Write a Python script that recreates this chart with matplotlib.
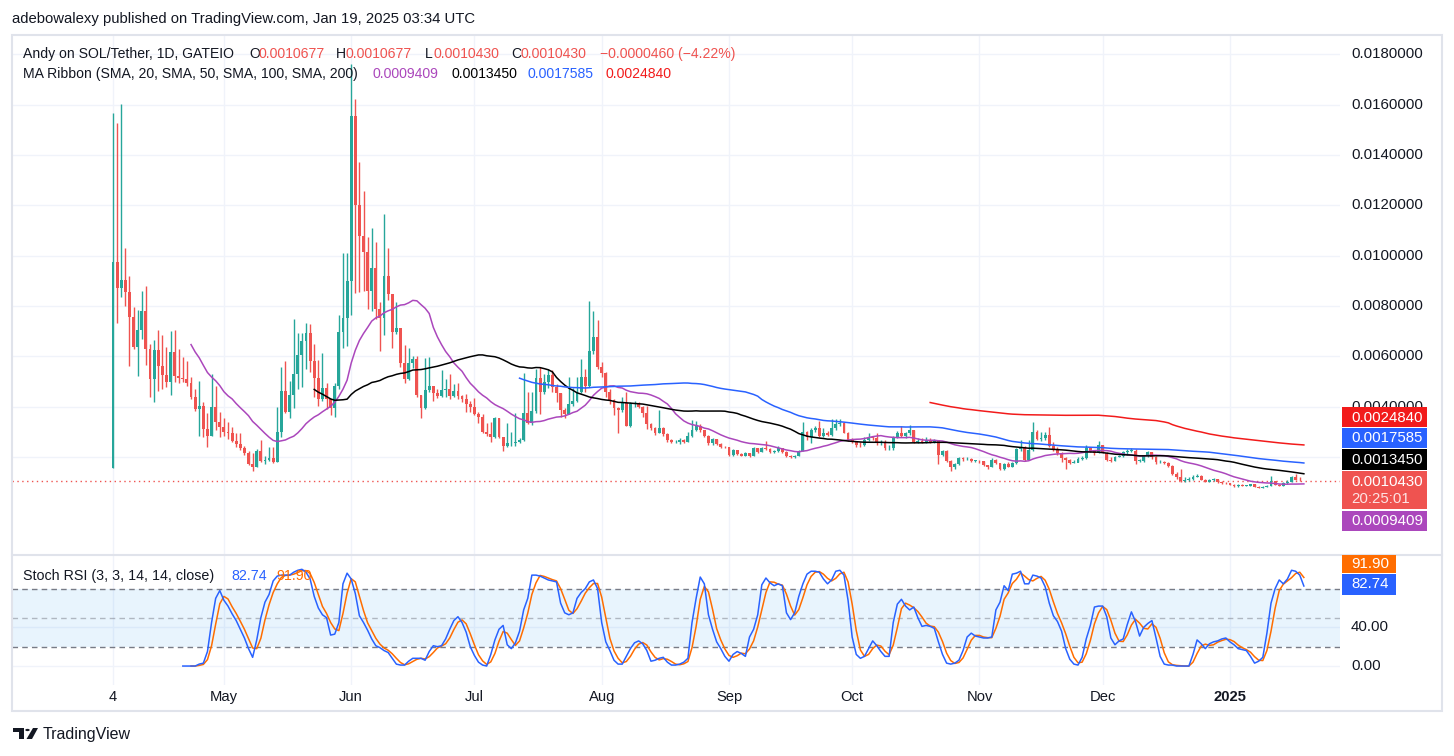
import matplotlib
matplotlib.use('Agg')
import matplotlib.pyplot as plt
import matplotlib.transforms as mtransforms
from matplotlib.patches import Rectangle, Polygon, Circle
from matplotlib.lines import Line2D
import numpy as np
import pandas as pd

plt.rcParams['font.family'] = ['Liberation Sans', 'DejaVu Sans']

# daily candles from 2024-04-04, prices in units of 0.001 USDT
first_open = 1.59
last_open = 1.0677
closes = [
    9.76, 8.73, 9.04, 8.57, 7.56, 6.39, 7.05, 7.81, 6.29, 5.10,
    6.26, 5.62, 5.27, 5.00, 6.18, 5.24, 5.13, 5.10, 4.96, 4.38,
    3.92, 4.04, 3.11, 2.85, 3.98, 3.41, 3.21, 3.02, 2.98, 2.66,
    2.53, 2.36, 2.18, 1.73, 1.63, 2.25, 1.85, 1.89, 1.96, 1.83,
    2.99, 4.63, 3.81, 4.47, 5.31, 6.06, 6.61, 6.92, 5.82, 5.13,
    4.30, 4.74, 4.30, 3.94, 4.83, 6.96, 7.54, 9.00, 15.54, 12.01,
    10.79, 10.16, 8.61, 9.52, 7.87, 7.52, 9.19, 8.47, 6.96, 7.12,
    5.73, 5.10, 5.73, 5.89, 4.47, 3.94, 4.67, 4.83, 4.54, 4.43,
    4.67, 4.70, 4.43, 4.64, 4.43, 4.30, 4.11, 4.01, 3.71, 3.61,
    3.02, 2.92, 2.79, 3.57, 2.79, 2.45, 2.56, 2.58, 2.60, 2.69,
    3.75, 3.35, 3.84, 5.16, 4.60, 5.00, 5.25, 4.80, 4.56, 3.88,
    3.70, 4.12, 4.25, 4.60, 5.20, 4.83, 6.22, 6.79, 5.57, 5.36,
    4.60, 4.27, 3.94, 3.88, 4.14, 3.24, 4.12, 4.17, 4.01, 3.75,
    3.31, 3.17, 2.98, 3.17, 2.92, 2.69, 2.60, 2.60, 2.69, 2.62,
    2.85, 3.08, 3.24, 3.08, 2.85, 2.56, 2.71, 2.52, 2.42, 2.40,
    2.09, 2.29, 2.13, 2.06, 2.16, 2.06, 2.36, 2.22, 2.36, 2.32,
    2.22, 2.25, 2.36, 2.22, 2.06, 2.00, 2.06, 2.26, 3.00, 2.79,
    3.08, 3.15, 2.83, 2.98, 2.88, 3.15, 3.32, 3.35, 2.98, 2.69,
    2.62, 2.50, 2.48, 2.69, 2.78, 2.76, 2.55, 2.59, 2.35, 2.35,
    2.78, 2.98, 2.83, 2.95, 3.10, 2.59, 2.65, 2.60, 2.70, 2.60,
    2.68, 2.09, 2.25, 1.87, 1.63, 1.72, 1.96, 1.92, 1.95, 1.85,
    1.86, 1.84, 1.70, 1.63, 1.89, 1.76, 1.52, 1.73, 1.63, 1.76,
    2.31, 2.35, 1.90, 2.30, 3.00, 2.74, 2.75, 2.90, 2.44, 2.30,
    2.17, 1.97, 1.88, 1.78, 1.79, 1.95, 1.97, 2.37, 2.25, 2.15,
    2.49, 2.17, 1.90, 1.85, 2.02, 2.06, 2.19, 2.26, 2.26, 1.86,
    1.86, 2.04, 2.19, 1.99, 1.80, 1.80, 1.79, 1.66, 1.34, 1.20,
    1.07, 1.10, 1.14, 1.23, 1.27, 1.10, 1.03, 1.10, 1.12, 1.00,
    0.99, 0.97, 0.91, 0.84, 0.91, 0.87, 0.87, 0.93, 0.82, 0.79,
    0.82, 0.87, 1.06, 0.90, 0.86, 0.96, 1.03, 1.20, 1.10, 1.089,
    1.043,
]
highs = [
    15.65, 15.25, 16.02, 10.29, 9.19, 7.98, 7.85, 8.61, 8.80, 6.48,
    6.65, 7.05, 6.85, 6.39, 7.01, 7.05, 6.31, 5.99, 5.82, 5.20,
    4.71, 5.03, 4.18, 3.75, 5.29, 4.83, 3.81, 3.57, 3.40, 3.21,
    2.95, 2.98, 2.45, 2.25, 2.16, 2.32, 2.69, 2.05, 2.40, 2.42,
    3.98, 5.57, 5.82, 5.03, 7.49, 6.94, 6.94, 7.32, 7.30, 6.50,
    5.85, 6.13, 4.95, 4.20, 4.95, 7.65, 10.12, 10.12, 17.60, 16.21,
    13.71, 12.56, 10.73, 11.09, 10.56, 8.17, 11.65, 10.32, 8.47, 8.15,
    7.12, 6.46, 6.35, 6.00, 6.02, 4.47, 5.95, 5.99, 4.83, 4.70,
    5.46, 5.10, 5.30, 4.90, 4.95, 4.48, 4.50, 4.24, 4.35, 3.80,
    3.70, 3.35, 3.40, 3.61, 3.57, 2.79, 3.35, 3.00, 3.75, 2.75,
    5.36, 4.60, 4.60, 5.49, 5.60, 5.30, 5.50, 5.45, 4.90, 4.56,
    3.95, 5.20, 4.74, 5.20, 5.90, 5.50, 8.20, 7.81, 7.45, 5.80,
    5.40, 4.70, 4.30, 4.00, 4.40, 4.58, 4.20, 4.25, 4.20, 4.05,
    4.04, 3.35, 3.20, 3.88, 3.20, 2.95, 2.72, 2.68, 2.75, 2.72,
    3.00, 3.47, 3.45, 3.30, 3.10, 2.88, 2.75, 2.72, 2.56, 2.45,
    2.42, 2.33, 2.25, 2.18, 2.20, 2.15, 2.40, 2.38, 2.42, 2.65,
    2.35, 2.30, 2.45, 2.38, 2.25, 2.08, 2.10, 2.30, 3.41, 3.05,
    3.15, 3.25, 3.44, 3.15, 3.05, 3.52, 3.52, 3.52, 3.40, 3.00,
    2.75, 2.65, 2.60, 2.80, 2.98, 2.85, 2.95, 2.70, 2.70, 2.50,
    2.85, 3.05, 3.25, 3.00, 3.28, 3.10, 2.75, 2.75, 2.80, 2.75,
    2.72, 2.70, 2.30, 2.28, 1.90, 1.78, 2.00, 2.02, 2.00, 1.98,
    1.90, 1.90, 1.85, 1.70, 1.96, 1.92, 1.78, 1.78, 1.80, 1.80,
    2.35, 2.69, 2.45, 2.69, 3.39, 3.10, 2.99, 3.00, 3.20, 2.60,
    2.40, 2.20, 2.02, 1.92, 1.90, 2.00, 2.05, 2.50, 2.40, 2.30,
    2.65, 2.50, 2.20, 2.00, 2.05, 2.10, 2.25, 2.32, 2.35, 2.32,
    1.95, 2.10, 2.25, 2.22, 2.05, 1.88, 1.85, 1.83, 1.70, 1.40,
    1.52, 1.20, 1.20, 1.30, 1.35, 1.30, 1.15, 1.15, 1.18, 1.15,
    1.04, 1.02, 0.99, 0.93, 0.93, 0.93, 0.90, 0.95, 0.95, 0.84,
    0.86, 0.90, 1.26, 1.06, 0.94, 1.00, 1.08, 1.25, 1.33, 1.20,
    1.0677,
]
lows = [
    1.59, 7.34, 8.35, 8.02, 5.63, 6.29, 5.24, 6.68, 5.65, 4.38,
    4.21, 4.64, 4.70, 4.80, 4.46, 4.98, 4.96, 5.00, 4.83, 4.30,
    3.85, 2.86, 2.79, 2.42, 2.85, 3.08, 2.82, 2.86, 2.71, 2.60,
    2.42, 2.29, 2.09, 1.69, 1.46, 1.60, 1.80, 1.73, 1.85, 1.78,
    1.80, 2.80, 3.75, 3.55, 3.97, 4.70, 4.80, 5.50, 5.40, 4.40,
    4.04, 4.25, 3.90, 3.68, 3.60, 4.70, 6.33, 6.40, 7.65, 8.51,
    8.57, 8.60, 7.87, 7.81, 7.48, 6.23, 6.85, 8.24, 6.33, 6.90,
    5.60, 4.96, 5.05, 5.53, 4.40, 3.57, 3.90, 4.60, 4.25, 4.35,
    4.40, 4.40, 4.30, 4.40, 4.30, 4.20, 3.81, 3.81, 3.68, 3.35,
    2.95, 2.85, 2.62, 2.75, 2.75, 2.26, 2.40, 2.45, 2.45, 2.55,
    2.65, 3.30, 3.28, 3.75, 3.70, 4.50, 4.75, 4.60, 4.20, 3.60,
    3.55, 3.70, 4.05, 4.20, 4.55, 4.60, 4.80, 6.10, 5.50, 5.20,
    4.40, 4.10, 3.68, 2.98, 3.80, 3.23, 3.20, 4.00, 3.95, 3.61,
    3.11, 3.10, 2.90, 2.95, 2.85, 2.62, 2.55, 2.55, 2.52, 2.58,
    2.60, 2.80, 3.05, 3.00, 2.80, 2.50, 2.50, 2.48, 2.38, 2.35,
    2.05, 2.05, 2.10, 2.03, 2.05, 2.02, 2.05, 2.18, 2.20, 2.28,
    2.18, 2.15, 2.20, 2.18, 2.02, 1.97, 1.98, 2.05, 2.24, 2.70,
    2.55, 3.00, 2.80, 2.80, 2.85, 2.85, 3.10, 3.25, 2.95, 2.65,
    2.55, 2.40, 2.40, 2.45, 2.65, 2.70, 2.50, 2.50, 2.30, 2.30,
    2.30, 2.75, 2.80, 2.75, 2.90, 2.55, 2.55, 2.55, 2.55, 2.55,
    2.55, 1.73, 2.05, 1.80, 1.47, 1.55, 1.70, 1.85, 1.88, 1.80,
    1.80, 1.78, 1.65, 1.52, 1.60, 1.72, 1.48, 1.50, 1.60, 1.60,
    1.74, 2.25, 1.85, 1.90, 2.25, 2.70, 2.65, 2.70, 2.40, 2.25,
    2.10, 1.80, 1.52, 1.75, 1.77, 1.80, 1.90, 1.95, 2.20, 2.10,
    2.15, 2.15, 1.85, 1.80, 1.85, 2.00, 2.02, 2.10, 2.20, 1.75,
    1.80, 1.83, 2.00, 1.95, 1.75, 1.76, 1.75, 1.60, 1.30, 1.15,
    1.00, 1.03, 1.05, 1.08, 1.20, 1.08, 1.00, 1.02, 1.05, 0.97,
    0.95, 0.93, 0.88, 0.82, 0.82, 0.84, 0.84, 0.84, 0.80, 0.77,
    0.78, 0.80, 0.85, 0.88, 0.84, 0.85, 0.95, 1.00, 1.08, 1.05,
    1.043,
]

stoch_start = 17
stoch_k = [
    0, 0, 0, 0, 2, 3, 15, 45, 70, 78,
    68, 62, 54, 47, 38, 29, 18, 9, 27, 50,
    66, 74, 88, 93, 94, 94, 94, 97, 99, 100,
    97, 90, 72, 60, 53, 50, 32, 33, 45, 85,
    96, 90, 75, 52, 45, 37, 28, 21, 19, 16,
    14, 8, 2, 1, 1, 5, 8, 8, 8, 6,
    15, 21, 20, 21, 28, 38, 47, 51, 45, 35,
    20, 11, 4, 1, 0, 12, 27, 38, 42, 22,
    18, 24, 36, 58, 70, 94, 94, 93, 91, 89,
    88, 87, 65, 55, 53, 55, 70, 76, 80, 87,
    89, 80, 45, 25, 16, 6, 2, 2, 10, 18,
    24, 26, 23, 16, 5, 6, 8, 9, 4, 1,
    1, 2, 4, 8, 45, 70, 92, 85, 53, 38,
    25, 18, 10, 5, 12, 15, 13, 10, 30, 38,
    53, 84, 91, 86, 83, 85, 83, 55, 48, 55,
    72, 85, 95, 98, 98, 97, 90, 85, 89, 98,
    99, 94, 68, 30, 12, 8, 10, 18, 26, 21,
    15, 10, 10, 45, 64, 69, 62, 58, 61, 50,
    41, 42, 41, 39, 25, 12, 3, 2, 3, 6,
    16, 30, 34, 31, 30, 29, 29, 30, 58, 66,
    83, 78, 95, 96, 98, 85, 85, 94, 93, 91,
    82, 65, 52, 46, 36, 18, 7, 2, 1, 9,
    28, 42, 61, 62, 62, 51, 29, 22, 26, 28,
    43, 56, 46, 31, 40, 44, 47, 29, 10, 2,
    1, 1, 0, 0, 0, 0, 12, 27, 23, 18,
    23, 25, 26, 28, 29, 25, 22, 18, 17, 16,
    10, 3, 5, 9, 34, 65, 80, 89, 85, 90,
    99, 98, 94, 82.74,
]

ma_lengths = [20, 50, 100, 200]
ma_colors = ['#ab47bc', '#000000', '#2962ff', '#f21b1b']
ma_labels = ['0.0009409', '0.0013450', '0.0017585', '0.0024840']
price_ticks = [0.004, 0.006, 0.008, 0.010, 0.012, 0.014, 0.016, 0.018]

UP, DOWN = '#26a69a', '#ef5350'
TXT = '#131722'
GRID = '#f0f3fa'

W, H = 1454, 756
def fx(px):
    return px / W
def fy(py):
    return 1 - py / H

n = len(closes)
dates = pd.date_range('2024-04-04', periods=n, freq='D')
x = np.arange(n)
c = np.array(closes) * 1e-3
o = np.r_[first_open, closes[:-1]] * 1e-3
o[-1] = last_open * 1e-3
hi = np.array(highs) * 1e-3
lo = np.array(lows) * 1e-3
up = c >= o
cols = np.where(up, UP, DOWN)

fig = plt.figure(figsize=(W / 100, H / 100), dpi=100)
ax = fig.add_axes([fx(12), fy(555), fx(1340) - fx(12), fy(35) - fy(555)])
ax2 = fig.add_axes([fx(12), fy(685), fx(1340) - fx(12), fy(555) - fy(685)])
xlim = (-24.6, 298.8)
ax.set_xlim(*xlim)
ax.set_ylim(-0.00188, 0.01876)
ax2.set_xlim(*xlim)
ax2.set_ylim(-19.6, 114.8)
for a in (ax, ax2):
    a.set_xticks([])
    a.set_yticks([])
    for s in a.spines.values():
        s.set_visible(False)

# month boundaries
month_idx = [0] + [i for i, d in enumerate(dates) if d.day == 1]
month_lab = []
for i in month_idx:
    d = dates[i]
    if i == 0:
        month_lab.append(str(d.day))
    elif d.month == 1:
        month_lab.append(str(d.year))
    else:
        month_lab.append(d.strftime('%b'))

for i in month_idx:
    ax.axvline(i, color=GRID, lw=1, zorder=0)
    ax2.axvline(i, color=GRID, lw=1, zorder=0)
for p in np.arange(0.002, 0.0181, 0.002):
    ax.axhline(p, color=GRID, lw=1, zorder=0)
for v in (0, 40):
    ax2.axhline(v, color=GRID, lw=1, zorder=0)

# candles
ax.vlines(x, lo, hi, colors=cols, lw=1.0, zorder=2)
body_lo = np.minimum(o, c)
body_h = np.maximum(np.abs(c - o), 0.000025)
ax.bar(x, body_h, bottom=body_lo, width=0.7, color=cols, lw=0, zorder=3)

# moving average ribbon
s = pd.Series(c)
for ln, col in zip(ma_lengths, ma_colors):
    ax.plot(x, s.rolling(ln).mean(), color=col, lw=1.1, zorder=4)

ax.axhline(c[-1], color=DOWN, lw=1, ls=(0, (1, 2.5)), zorder=1)

# price scale
tr = mtransforms.blended_transform_factory(ax.transAxes, ax.transData)
lx = (1351 - 12) / 1328
for p in price_ticks:
    ax.text(lx, p, f'{p:.7f}', transform=tr, ha='left', va='center',
            fontsize=10.8, color=TXT, clip_on=False)

def label_box(y0, y1, color, lines, x0=1342, x1=1427):
    fig.add_artist(Rectangle((fx(x0), fy(y1)), fx(x1) - fx(x0), fy(y0) - fy(y1),
                             transform=fig.transFigure, color=color, lw=0, zorder=5))
    for ty, t, tc in lines:
        fig.text(fx(1351), fy(ty), t, ha='left', va='center', fontsize=10.8,
                 color=tc, zorder=6)

label_box(407.3, 427.3, ma_colors[3], [(417.5, ma_labels[3], 'white')])
label_box(428.3, 448.3, ma_colors[2], [(438.5, ma_labels[2], 'white')])
label_box(449.3, 470.0, ma_colors[1], [(459.8, ma_labels[1], 'white')])
label_box(471.0, 509.0, DOWN, [(481.7, '0.0010430', 'white'), (499.3, '20:25:01', '#fde3e3')])
label_box(510.7, 530.7, ma_colors[0], [(520.8, ma_labels[0], 'white')])

# stoch RSI pane
k = pd.Series(stoch_k, index=np.arange(stoch_start, stoch_start + len(stoch_k)), dtype=float)
d = k.rolling(3).mean()
ax2.axhspan(20, 80, color='#2196f3', alpha=0.1, lw=0, zorder=0)
ax2.axhline(80, color='#787b86', lw=1, ls=(0, (4, 3)), zorder=1)
ax2.axhline(20, color='#787b86', lw=1, ls=(0, (4, 3)), zorder=1)
ax2.axhline(50, color='#787b86', lw=1, ls=(0, (4, 3)), alpha=0.5, zorder=1)
ax2.plot(k.index, k.values, color='#2962ff', lw=1.1, zorder=3)
ax2.plot(d.index, d.values, color='#ff6d00', lw=1.1, zorder=2)

tr2 = mtransforms.blended_transform_factory(ax2.transAxes, ax2.transData)
for v in (0, 40):
    ax2.text(lx, v, f'{v:.2f}', transform=tr2, ha='left', va='center',
             fontsize=10.8, color=TXT, clip_on=False)
fig.add_artist(Rectangle((fx(1342), fy(573)), fx(1396) - fx(1342), fy(555) - fy(573),
                         transform=fig.transFigure, color='#ff6d00', lw=0, zorder=5))
fig.text(fx(1351), fy(564), '91.90', ha='left', va='center', fontsize=10.8, color='white', zorder=6)
fig.add_artist(Rectangle((fx(1342), fy(595)), fx(1396) - fx(1342), fy(574) - fy(595),
                         transform=fig.transFigure, color='#2962ff', lw=0, zorder=5))
fig.text(fx(1351), fy(584.5), '82.74', ha='left', va='center', fontsize=10.8, color='white', zorder=6)

fig.text(fx(23), fy(576), 'Stoch RSI (3, 3, 14, 14, close)', ha='left', va='center', fontsize=10.3, color=TXT)
fig.text(fx(231), fy(576), '82.74', ha='left', va='center', fontsize=10.3, color='#2962ff')
fig.text(fx(276), fy(576), '91.90', ha='left', va='center', fontsize=10.3, color='#ff6d00')

# time axis
trx = mtransforms.blended_transform_factory(ax2.transData, ax2.transAxes)
for i, lab in zip(month_idx, month_lab):
    ax2.text(i, -0.092, lab, transform=trx, ha='center', va='center', fontsize=10.6,
             color=TXT, fontweight='bold' if lab.isdigit() and len(lab) == 4 else 'normal',
             clip_on=False)

# frame and separators
fig.add_artist(Rectangle((fx(12), fy(711)), fx(1442) - fx(12), fy(35) - fy(711),
                         transform=fig.transFigure, fill=False, ec='#e0e3eb', lw=1.5, zorder=4))
fig.add_artist(Line2D([fx(12), fx(1442)], [fy(555), fy(555)], transform=fig.transFigure,
                      color='#e0e3eb', lw=1.5, zorder=4))

# header
fig.text(fx(12), fy(19), 'adebowalexy published on TradingView.com, Jan 19, 2025 03:34 UTC',
         ha='left', va='center', fontsize=10.7, color=TXT)
hdr1 = [(23, 'Andy on SOL/Tether, 1D, GATEIO', TXT), (249, 'O', TXT), (258.5, '0.0010677', DOWN),
        (336, 'H', TXT), (346, '0.0010677', DOWN), (425, 'L', TXT), (433, '0.0010430', DOWN),
        (511, 'C', TXT), (520.5, '0.0010430', DOWN), (600, '\u22120.0000460 (\u22124.22%)', DOWN)]
for px_, t, col in hdr1:
    fig.text(fx(px_), fy(54), t, ha='left', va='center', fontsize=10.1, color=col)
hdr2 = [(23, 'MA Ribbon (SMA, 20, SMA, 50, SMA, 100, SMA, 200)', TXT)]
hdr2 += list(zip([373, 451, 528, 606], ma_labels, ma_colors))
for px_, t, col in hdr2:
    fig.text(fx(px_), fy(74), t, ha='left', va='center', fontsize=10.1, color=col)

# footer logo
logo = '#131722'
fig.add_artist(Polygon([(fx(13), fy(728)), (fx(24), fy(728)), (fx(24), fy(739)), (fx(19), fy(739)),
                        (fx(19), fy(732)), (fx(13), fy(732))], closed=True,
                       transform=fig.transFigure, color=logo, lw=0))
fig.add_artist(Circle((fx(27.5), fy(730)), 2.2 / W, transform=fig.transFigure, color=logo, lw=0))
fig.add_artist(Polygon([(fx(33), fy(728)), (fx(38), fy(728)), (fx(32), fy(739)), (fx(26.5), fy(739))],
                       closed=True, transform=fig.transFigure, color=logo, lw=0))
fig.text(fx(43), fy(734), 'TradingView', ha='left', va='center', fontsize=11.5, color=TXT)

fig.savefig('out.png', dpi=100)
